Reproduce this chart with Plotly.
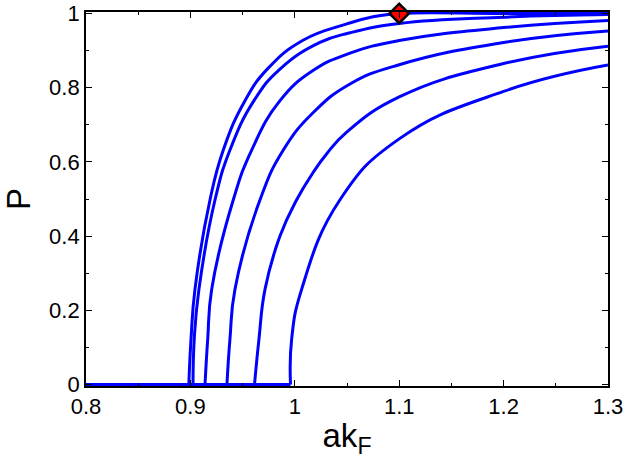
import plotly.graph_objects as go

# ---- data ----
X1 = [0.8, 0.8985, 0.9006, 0.9044, 0.9188, 0.9315, 0.9523, 0.9743, 1.0079, 1.0500, 1.0750, 1.1000, 1.2000, 1.3000]
P1 = [0.0, 0.0, 0.123, 0.257, 0.498, 0.632, 0.765, 0.852, 0.928, 0.972, 0.991, 1.000, 1.000, 1.000]

X2 = [0.8, 0.9025, 0.9037, 0.9082, 0.9236, 0.9379, 0.9609, 0.9858, 1.0241, 1.0529, 1.1000, 1.2000, 1.3000]
P2 = [0.0, 0.0, 0.123, 0.257, 0.498, 0.632, 0.765, 0.850, 0.922, 0.948, 0.973, 0.990, 0.997]

X3 = [0.8, 0.9140, 0.9166, 0.9204, 0.9411, 0.9587, 0.9858, 1.0174, 1.0529, 1.1000, 1.2000, 1.3000]
P3 = [0.0, 0.0, 0.123, 0.257, 0.498, 0.632, 0.765, 0.846, 0.893, 0.927, 0.962, 0.981]

X4 = [0.8, 0.9350, 0.9379, 0.9427, 0.9667, 0.9890, 1.0177, 1.0529, 1.1000, 1.2000, 1.3000]
P4 = [0.0, 0.0, 0.123, 0.257, 0.498, 0.632, 0.733, 0.810, 0.862, 0.922, 0.953]

X5 = [0.8, 0.9614, 0.9657, 0.9715, 0.9858, 1.0018, 1.0177, 1.0306, 1.0497, 1.1000, 1.2000, 1.3000]
P5 = [0.0, 0.0, 0.123, 0.257, 0.400, 0.498, 0.572, 0.622, 0.680, 0.775, 0.865, 0.912]

X6 = [0.8, 0.9959, 0.9970, 1.0066, 1.0433, 1.1000, 1.2000, 1.3000]
P6 = [0.0, 0.0, 0.123, 0.257, 0.498, 0.662, 0.790, 0.861]

CURVES = [(X1, P1), (X2, P2), (X3, P3), (X4, P4), (X5, P5), (X6, P6)]

MARK_X = [1.1]
MARK_P = [1.0]

X_TICKS = [0.8, 0.9, 1.0, 1.1, 1.2, 1.3]
X_TICK_LABELS = ["0.8", "0.9", "1", "1.1", "1.2", "1.3"]
X_MINOR = [0.85, 0.95, 1.05, 1.15, 1.25]
Y_TICKS = [0, 0.2, 0.4, 0.6, 0.8, 1.0]
Y_TICK_LABELS = ["0", "0.2", "0.4", "0.6", "0.8", "1"]
Y_MINOR = [0.1, 0.3, 0.5, 0.7, 0.9]

X_TITLE = "ak<sub>F</sub>"
Y_TITLE = "P"

fig = go.Figure()
for xs, ps in CURVES:
    k = 2
    fig.add_trace(go.Scatter(x=xs[:k], y=ps[:k], mode="lines",
                             line=dict(color="#0000FF", width=3),
                             showlegend=False, hoverinfo="skip"))
    fig.add_trace(go.Scatter(x=xs[k - 1:], y=ps[k - 1:], mode="lines",
                             line=dict(color="#0000FF", width=3, shape="spline", smoothing=1.3),
                             showlegend=False, hoverinfo="skip"))

fig.add_trace(go.Scatter(x=MARK_X, y=MARK_P, mode="markers", cliponaxis=False,
                         marker=dict(symbol="diamond", size=15, color="#FF0000",
                                     line=dict(color="black", width=2.5)),
                         showlegend=False))

font_family = "Liberation Sans, Arial, Helvetica, sans-serif"
axis_common = dict(
    showgrid=False, zeroline=False, showline=True, linecolor="black", linewidth=1.8,
    mirror="allticks", ticks="inside", ticklen=6, tickwidth=1, tickcolor="black",
    tickfont=dict(family=font_family, size=22, color="black"), automargin=False,
)

fig.update_xaxes(range=[0.8, 1.3], tickmode="array", tickvals=X_TICKS, ticktext=X_TICK_LABELS,
                 minor=dict(tickvals=X_MINOR, ticks="inside", ticklen=3, tickcolor="black"),
                 title=dict(text=X_TITLE, font=dict(family=font_family, size=33, color="black"), standoff=6),
                 **axis_common)
fig.update_yaxes(range=[-0.004, 1.004], tickmode="array", tickvals=Y_TICKS, ticktext=Y_TICK_LABELS,
                 minor=dict(tickvals=Y_MINOR, ticks="inside", ticklen=3, tickcolor="black"),
                 title=dict(text=Y_TITLE, font=dict(family=font_family, size=33, color="black"), standoff=14),
                 **axis_common)

fig.update_layout(width=626, height=473, margin=dict(l=86, r=18, t=12, b=87),
                  paper_bgcolor="white", plot_bgcolor="white")

fig.write_html("out.html")
